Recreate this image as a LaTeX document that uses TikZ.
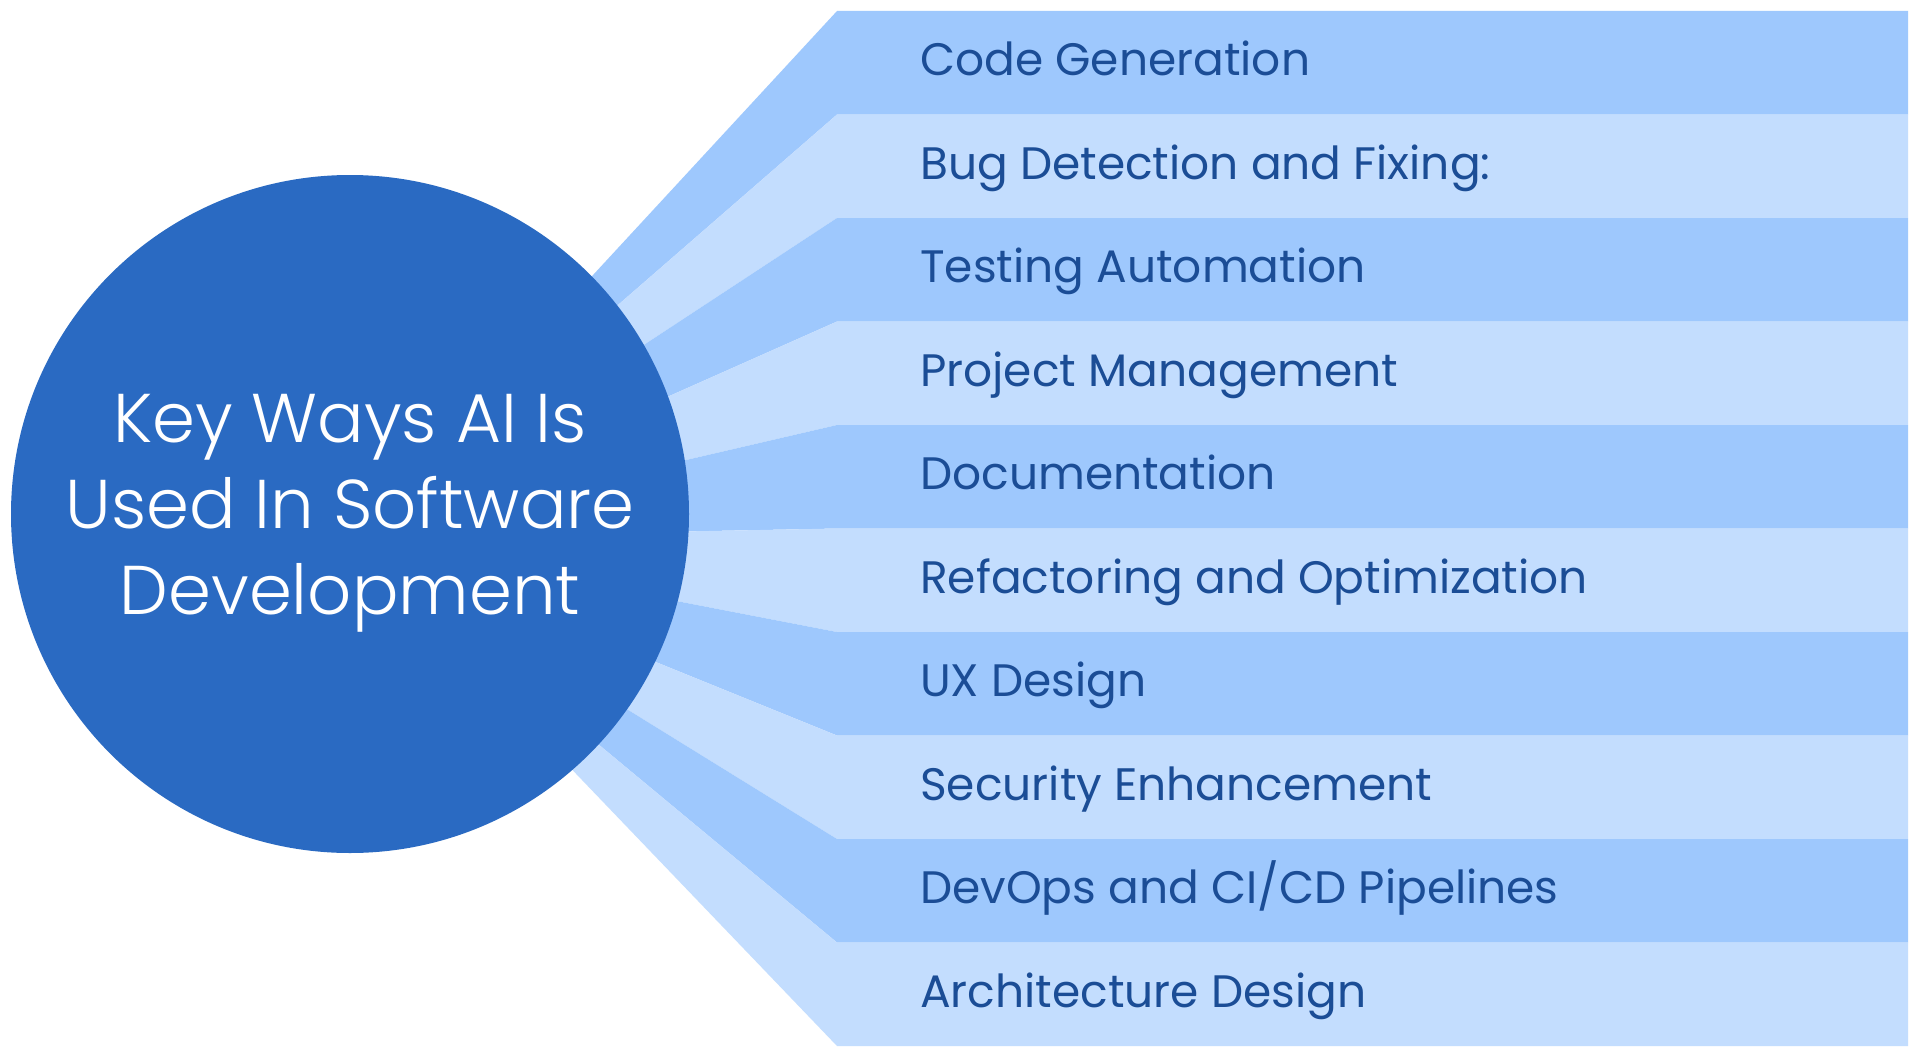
\documentclass[tikz,border=0pt]{standalone}
\usepackage{fontspec}
\setmainfont{Poppins}
\newfontfamily\hubfont{Poppins Light}
\usetikzlibrary{positioning}
\definecolor{bandDark}{HTML}{9EC8FD}
\definecolor{bandLight}{HTML}{C3DDFE}
\definecolor{hubBlue}{HTML}{2A6AC2}
\definecolor{itemText}{HTML}{1B4D96}

\begin{document}
\begin{tikzpicture}[
  x=1pt, y=-1pt,
  hub/.style = {circle, fill=hubBlue, minimum size=678pt, inner sep=0pt},
  title/.style = {text=white, align=center, inner sep=0pt, font=\hubfont\fontsize{69}{86}\selectfont},
  item/.style = {anchor=west, text=itemText, inner sep=0pt, text height=32pt, text depth=0pt, font=\fontsize{45.5}{50}\selectfont}
]
  \useasboundingbox (0,0) rectangle (1920,1057);
  \fill[white] (0,0) rectangle (1920,1057);
  \coordinate (fan) at (350,538);

  % bands fanning out of the hub
  \foreach \lbl [count=\i from 0] in {Code Generation, Bug Detection and Fixing:, Testing Automation, Project Management, Documentation, Refactoring and Optimization, UX Design, Security Enhancement, DevOps and CI/CD Pipelines, Architecture Design} {
    \pgfmathsetmacro{\ytop}{11+103.5*\i}
    \pgfmathsetmacro{\ybot}{\ytop+103.5}
    \ifodd\i \def\bandcol{bandLight}\else\def\bandcol{bandDark}\fi
    \fill[\bandcol] (fan) -- (837,\ytop) -- (1908,\ytop) -- (1908,\ybot) -- (837,\ybot) -- cycle;
    \node[item] (item\i) at (920,\ytop+48.5) {\lbl};
  }

  \node[hub] (hub) at (350,514) {};
  \node[title] (hubtext) at ([yshift=1pt]hub.center) {Key Ways AI Is\\Used In Software\\Development};
\end{tikzpicture}
\end{document}
